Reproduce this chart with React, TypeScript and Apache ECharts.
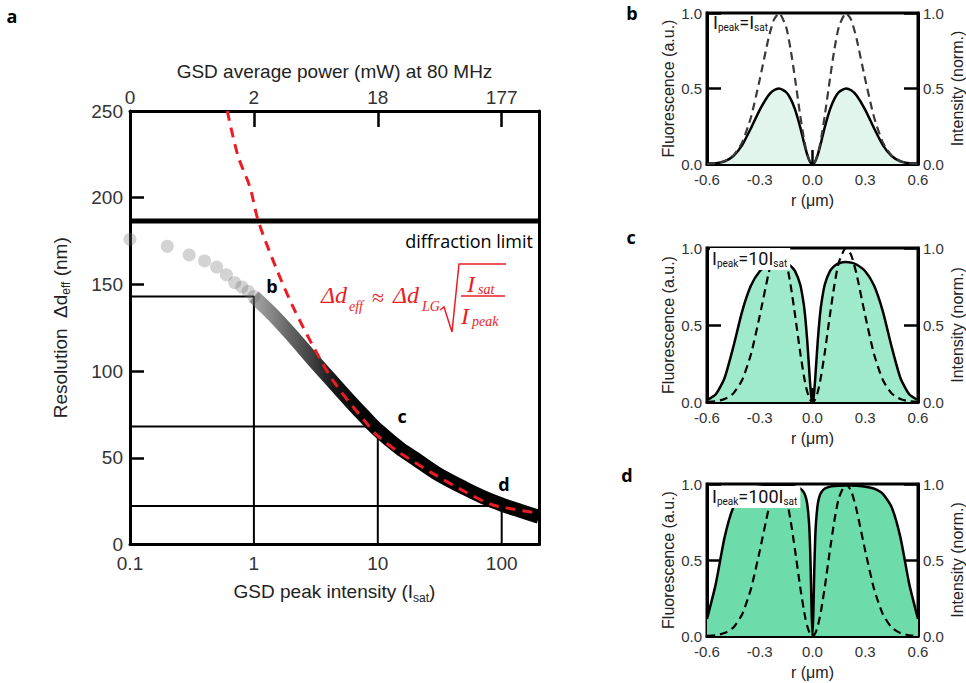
import React, { useEffect, useRef } from 'react';
import * as echarts from 'echarts';

// ---------- Panel a data ----------
const intensityTicks = [0.1, 1, 10, 100];
const powerTickLabels = ['0', '2', '18', '177'];
const diffractionLimit = 186.5;
const dotIntensity = [0.1, 0.2, 0.3, 0.4, 0.5, 0.6, 0.7, 0.8, 0.9, 1.0];
const dotResolution = [176, 172, 167, 163.5, 160, 155.5, 151, 148.5, 146, 143];
const bandIntensity = [1, 1.4, 2, 3, 4, 6, 8, 10, 15, 20, 30, 50, 70, 100, 140, 200];
const bandResolution = [143, 133, 121, 106.5, 96.5, 82.5, 73, 66, 55.5, 49.5, 41, 32.5, 27.5, 23, 19.5, 16];
const fitIntensity = [0.61, 0.74, 0.93, 1.08, 1.5, 2.07, 3.16, 4.5, 8.1, 10, 15, 27.8, 52, 85, 148, 200];
const fitResolution = [250, 224.6, 206, 187, 160, 137, 111.5, 93, 70, 62.6, 53, 41, 30, 22.8, 19.5, 18];
const refIntensity = [1, 10, 100];
const refResolution = [143, 68, 22.2];
const panelLetters = ['b', 'c', 'd'];

// ---------- Panels b-d data (half profiles, r >= 0, mirrored) ----------
const rHalf = [0, 0.005, 0.01, 0.015, 0.02, 0.03, 0.04, 0.05, 0.07, 0.1, 0.125, 0.15, 0.19, 0.22, 0.25, 0.3, 0.35, 0.4, 0.45, 0.5, 0.55, 0.6];
const intensityHalf = [0, 0.002, 0.008, 0.017, 0.03, 0.066, 0.115, 0.176, 0.322, 0.571, 0.763, 0.908, 1, 0.954, 0.833, 0.56, 0.31, 0.143, 0.056, 0.019, 0.005, 0.001];
const fluorBHalf = [0, 0.002, 0.007, 0.017, 0.029, 0.062, 0.103, 0.149, 0.244, 0.363, 0.433, 0.476, 0.5, 0.488, 0.455, 0.359, 0.237, 0.125, 0.053, 0.018, 0.005, 0.001];
const fluorCHalf = [0, 0.018, 0.07, 0.144, 0.23, 0.398, 0.536, 0.637, 0.763, 0.851, 0.884, 0.901, 0.909, 0.905, 0.893, 0.849, 0.756, 0.589, 0.359, 0.156, 0.05, 0.012];
const fluorDHalf = [0, 0.158, 0.429, 0.627, 0.749, 0.869, 0.92, 0.946, 0.97, 0.983, 0.987, 0.989, 0.99, 0.99, 0.988, 0.982, 0.969, 0.935, 0.848, 0.649, 0.343, 0.112];
const panelLabels = ['I{s|peak}=I{s|sat}', 'I{s|peak}=10I{s|sat}', 'I{s|peak}=100I{s|sat}'];
const rTicks = [-0.6, -0.3, 0, 0.3, 0.6];
const normTicks = [0, 0.5, 1];

const mirror = (half: number[]) => {
  const pts: number[][] = [];
  for (let i = rHalf.length - 1; i > 0; i--) pts.push([-rHalf[i], half[i]]);
  for (let i = 0; i < rHalf.length; i++) pts.push([rHalf[i], half[i]]);
  return pts;
};
const zip = (a: number[], b: number[]) => a.map((v, i) => [v, b[i]]);

const SANS = 'Liberation Sans';
const OPEN = 'Open Sans';
const SERIF = 'Liberation Serif';
const RED = '#ec1c24';

export default function App() {
  const ref = useRef<HTMLDivElement>(null);
  useEffect(() => {
    if (!ref.current) return;
    const chart = echarts.init(ref.current, undefined, { renderer: 'svg' });

    const panelTops = [13, 248, 484];
    const panelHeights = [151, 154, 152];
    const fills = ['#e2f5ed', '#a0eacc', '#6edcaa'];
    const fluor = [fluorBHalf, fluorCHalf, fluorDHalf];
    const dashColors = ['#3a3a3a', '#000', '#000'];

    const grids: any[] = [{ left: 130, top: 111, width: 409, height: 433.5, show: false }];
    panelTops.forEach((t, k) => grids.push({ left: 707, top: t, width: 214, height: panelHeights[k], show: true, borderColor: '#000', borderWidth: 3 }));

    const axisLine = { show: true, onZero: false, lineStyle: { color: '#000', width: 3 } };
    const subRich = (fs: number, lh: number) => ({ s: { fontSize: fs, verticalAlign: 'bottom', lineHeight: lh } });

    const logFormatter = (v: number) => {
      const i = intensityTicks.findIndex((t) => Math.abs(Math.log10(t) - Math.log10(v)) < 1e-6);
      return i >= 0 ? String(intensityTicks[i]) : '';
    };
    const topFormatter = (v: number) => {
      const i = intensityTicks.findIndex((t) => Math.abs(Math.log10(t) - Math.log10(v)) < 1e-6);
      return i >= 0 ? powerTickLabels[i] : '';
    };

    const xAxes: any[] = [
      {
        gridIndex: 0, type: 'log', min: 0.1, max: 200, position: 'bottom',
        axisLine, axisTick: { show: false }, splitLine: { show: false }, minorTick: { show: false },
        axisLabel: { fontSize: 19, color: '#333', fontFamily: SANS, margin: 9, customValues: intensityTicks, formatter: logFormatter },
        name: 'GSD peak intensity (I{s|sat})', nameLocation: 'middle', nameGap: 35,
        nameTextStyle: { fontSize: 19, color: '#222', fontFamily: SANS, lineHeight: 24, rich: subRich(12, 8) },
      },
      {
        gridIndex: 0, type: 'log', min: 0.1, max: 200, position: 'top',
        axisLine, splitLine: { show: false },
        axisTick: { show: true, inside: true, length: 16, lineStyle: { color: '#000', width: 2.5 }, customValues: [1, 10, 100] },
        axisLabel: { fontSize: 19, color: '#333', fontFamily: SANS, margin: 4, customValues: intensityTicks, formatter: topFormatter },
        name: 'GSD average power (mW) at 80 MHz', nameLocation: 'middle', nameGap: 30,
        nameTextStyle: { fontSize: 19, color: '#222', fontFamily: SANS },
      },
    ];
    const yAxes: any[] = [
      {
        gridIndex: 0, type: 'value', min: 0, max: 250, interval: 50, position: 'left',
        axisLine, splitLine: { show: false },
        axisTick: { show: true, inside: true, length: 14, lineStyle: { color: '#000', width: 2.5 } },
        axisLabel: { fontSize: 19, color: '#333', fontFamily: SANS, margin: 7 },
        name: 'Resolution  Δd{s|eff} (nm)', nameLocation: 'middle', nameGap: 58, nameRotate: 90,
        nameTextStyle: { fontSize: 19, color: '#222', fontFamily: SANS, lineHeight: 24, rich: subRich(12, 8) },
      },
      {
        gridIndex: 0, type: 'value', min: 0, max: 250, position: 'right',
        axisLine, axisTick: { show: false }, axisLabel: { show: false }, splitLine: { show: false },
      },
    ];

    panelTops.forEach((_, k) => {
      xAxes.push({
        gridIndex: k + 1, type: 'value', min: -0.6, max: 0.6, interval: 0.3,
        axisLine, splitLine: { show: false },
        axisTick: { show: true, inside: true, length: 14, lineStyle: { color: '#000', width: 2.5 } },
        axisLabel: { fontSize: 15, color: '#333', fontFamily: SANS, margin: 8, customValues: rTicks, formatter: (v: number) => v.toFixed(1) },
        name: 'r (μm)', nameLocation: 'middle', nameGap: 28,
        nameTextStyle: { fontSize: 16, color: '#222', fontFamily: SANS },
      });
      ['left', 'right'].forEach((pos) => {
        yAxes.push({
          gridIndex: k + 1, type: 'value', min: 0, max: 1, interval: 0.5, position: pos,
          axisLine, splitLine: { show: false },
          axisTick: { show: true, inside: true, length: 14, lineStyle: { color: '#000', width: 2.5 } },
          axisLabel: { fontSize: 15, color: '#333', fontFamily: SANS, margin: 5, customValues: normTicks, formatter: (v: number) => v.toFixed(1) },
          name: pos === 'left' ? 'Fluorescence (a.u.)' : 'Intensity (norm.)',
          nameLocation: 'middle', nameGap: 31, nameRotate: 90,
          nameTextStyle: { fontSize: 16, color: '#222', fontFamily: SANS },
        });
      });
    });

    const series: any[] = [];
    refIntensity.forEach((x, i) => {
      series.push({
        type: 'line', xAxisIndex: 0, yAxisIndex: 0, symbol: 'none', silent: true,
        data: [[0.1, refResolution[i]], [x, refResolution[i]], [x, 0]],
        lineStyle: { color: '#000', width: 2 }, z: 2,
      });
    });
    series.push({
      type: 'line', xAxisIndex: 0, yAxisIndex: 0, symbol: 'none',
      data: [[0.1, diffractionLimit], [200, diffractionLimit]],
      lineStyle: { color: '#000', width: 5 }, z: 3,
    });
    series.push({
      type: 'scatter', xAxisIndex: 0, yAxisIndex: 0, symbolSize: 13,
      data: zip(dotIntensity, dotResolution),
      itemStyle: { color: 'rgba(110,110,110,0.38)' }, z: 4,
    });
    series.push({
      type: 'line', xAxisIndex: 0, yAxisIndex: 0, symbol: 'none', smooth: 0.3,
      data: zip(bandIntensity, bandResolution),
      lineStyle: {
        width: 14, cap: 'butt',
        color: new echarts.graphic.LinearGradient(0, 0, 1, 0, [
          { offset: 0, color: 'rgba(90,90,90,0.55)' },
          { offset: 0.12, color: 'rgba(60,60,60,0.78)' },
          { offset: 0.28, color: 'rgba(15,15,15,0.96)' },
          { offset: 0.4, color: '#000' },
          { offset: 1, color: '#000' },
        ]),
      },
      z: 5,
    });
    series.push({
      type: 'line', xAxisIndex: 0, yAxisIndex: 0, symbol: 'none', smooth: 0.3,
      data: zip(fitIntensity, fitResolution),
      lineStyle: { color: RED, width: 3, type: [10, 7] }, z: 6,
    });

    panelTops.forEach((_, k) => {
      series.push({
        type: 'line', xAxisIndex: k + 2, yAxisIndex: 2 + 2 * k, symbol: 'none', smooth: 0.2,
        data: mirror(fluor[k]),
        lineStyle: { color: '#000', width: 2.5 },
        areaStyle: { color: fills[k], opacity: 1 }, z: 2,
      });
      series.push({
        type: 'line', xAxisIndex: k + 2, yAxisIndex: 3 + 2 * k, symbol: 'none', smooth: 0.2,
        data: mirror(intensityHalf),
        lineStyle: { color: dashColors[k], width: 2.2, type: [8, 5] }, z: 3,
      });
    });

    const labelPos = [[711, 23], [710, 259], [710, 497]];
    const letterPos = [[632, 13], [631, 237], [627, 475]];
    const graphics: any[] = [
      { type: 'text', x: 12, y: 16, z: 100, style: { text: 'a', fontSize: 18, fontWeight: 'bold', fontFamily: OPEN, fill: '#000', align: 'center', verticalAlign: 'middle' } },
      { type: 'text', x: 533, y: 241, z: 100, style: { text: 'diffraction limit', fontSize: 18, fontFamily: OPEN, fill: '#000', align: 'right', verticalAlign: 'middle' } },
      { type: 'text', x: 272, y: 286, z: 100, style: { text: panelLetters[0], fontSize: 18, fontWeight: 'bold', fontFamily: OPEN, fill: '#000', align: 'center', verticalAlign: 'middle' } },
      { type: 'text', x: 402, y: 416, z: 100, style: { text: panelLetters[1], fontSize: 18, fontWeight: 'bold', fontFamily: OPEN, fill: '#000', align: 'center', verticalAlign: 'middle' } },
      { type: 'text', x: 504, y: 484, z: 100, style: { text: panelLetters[2], fontSize: 18, fontWeight: 'bold', fontFamily: OPEN, fill: '#000', align: 'center', verticalAlign: 'middle' } },
      // formula
      { type: 'text', x: 321, y: 295, z: 100, style: { text: 'Δd', fontSize: 24, fontStyle: 'italic', fontFamily: SERIF, fill: RED, verticalAlign: 'middle' } },
      { type: 'text', x: 349, y: 306, z: 100, style: { text: 'eff', fontSize: 14, fontStyle: 'italic', fontFamily: SERIF, fill: RED, verticalAlign: 'middle' } },
      { type: 'text', x: 372, y: 297, z: 100, style: { text: '≈', fontSize: 22, fontFamily: SERIF, fill: RED, verticalAlign: 'middle' } },
      { type: 'text', x: 393, y: 295, z: 100, style: { text: 'Δd', fontSize: 24, fontStyle: 'italic', fontFamily: SERIF, fill: RED, verticalAlign: 'middle' } },
      { type: 'text', x: 422, y: 306, z: 100, style: { text: 'LG', fontSize: 14, fontStyle: 'italic', fontFamily: SERIF, fill: RED, verticalAlign: 'middle' } },
      { type: 'polyline', z: 100, shape: { points: [[440, 310], [444, 307], [452, 332], [459, 264], [506, 264]] }, style: { stroke: RED, lineWidth: 1.5, fill: 'none' } },
      { type: 'line', z: 100, shape: { x1: 461, y1: 296, x2: 505, y2: 296 }, style: { stroke: RED, lineWidth: 1.5 } },
      { type: 'text', x: 467, y: 284, z: 100, style: { text: 'I', fontSize: 24, fontStyle: 'italic', fontFamily: SERIF, fill: RED, verticalAlign: 'middle' } },
      { type: 'text', x: 478, y: 289, z: 100, style: { text: 'sat', fontSize: 14, fontStyle: 'italic', fontFamily: SERIF, fill: RED, verticalAlign: 'middle' } },
      { type: 'text', x: 461, y: 316, z: 100, style: { text: 'I', fontSize: 24, fontStyle: 'italic', fontFamily: SERIF, fill: RED, verticalAlign: 'middle' } },
      { type: 'text', x: 472, y: 321, z: 100, style: { text: 'peak', fontSize: 14, fontStyle: 'italic', fontFamily: SERIF, fill: RED, verticalAlign: 'middle' } },
    ];
    panelTops.forEach((_, k) => {
      graphics.push({ type: 'text', x: letterPos[k][0], y: letterPos[k][1], z: 100, style: { text: panelLetters[k], fontSize: 18, fontWeight: 'bold', fontFamily: OPEN, fill: '#000', align: 'center', verticalAlign: 'middle' } });
      graphics.push({
        type: 'text', x: labelPos[k][0], y: labelPos[k][1], z: 100,
        style: {
          text: panelLabels[k], fontSize: 18, fontFamily: 'Roboto', fill: '#111', verticalAlign: 'middle',
          lineHeight: 20, backgroundColor: k === 0 ? 'transparent' : '#fff', padding: [0, 3, 2, 2],
          rich: { s: { fontSize: 10, verticalAlign: 'bottom', lineHeight: 6, fontFamily: 'Roboto', fill: '#111' } },
        },
      });
    });

    chart.setOption({
      animation: false,
      backgroundColor: '#fff',
      grid: grids,
      xAxis: xAxes,
      yAxis: yAxes,
      series,
      graphic: graphics,
    });
    return () => chart.dispose();
  }, []);
  return <div ref={ref} style={{ position: 'absolute', left: 0, top: 0, width: 966, height: 683 }} />;
}
